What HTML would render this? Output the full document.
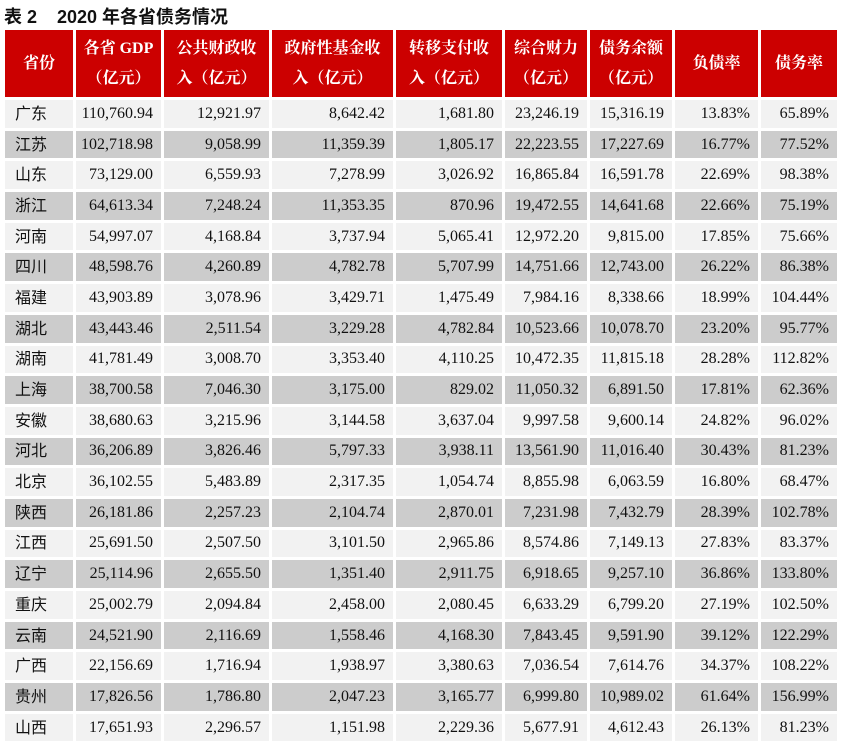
<!DOCTYPE html>
<html><head><meta charset="utf-8"><style>
body{margin:0;width:842px;height:744px;background:#fff;overflow:hidden;font-family:"Liberation Serif","Noto Serif CJK SC",serif;}
.t{position:absolute;left:4px;top:3px;font-size:18px;font-weight:bold;color:#111;font-family:"Liberation Sans","Noto Sans CJK SC",sans-serif;white-space:pre}
table{position:absolute;left:2px;top:27px;border-collapse:separate;border-spacing:3px;}
td{padding:0 8px 0 0;height:27.7px;font-size:16px;line-height:18px;vertical-align:middle;color:#111;text-align:right;white-space:nowrap;box-sizing:border-box;}
th{background:#cc0000;color:#fff;height:67px;font-size:16px;font-weight:bold;line-height:30px;padding:0;font-family:"Liberation Serif","Noto Serif CJK SC",serif;}
td.n{text-align:left;padding-left:10px;line-height:20px;font-family:"Liberation Sans","Noto Sans CJK SC",sans-serif;}
td.n span{display:inline-block;line-height:20px;position:relative;top:1px}
tr.o td{background:#f2f2f2}
tr.e td{background:#cccccc}
</style></head><body>
<div class="t">表 2    2020 年各省债务情况</div>
<table>
<colgroup><col style="width:68px"><col style="width:85px"><col style="width:105px"><col style="width:121px"><col style="width:106px"><col style="width:82px"><col style="width:82px"><col style="width:83px"><col style="width:76px"></colgroup>
<tr><th>省份</th><th>各省 GDP<br>（亿元）</th><th>公共财政收<br>入（亿元）</th><th>政府性基金收<br>入（亿元）</th><th>转移支付收<br>入（亿元）</th><th>综合财力<br>（亿元）</th><th>债务余额<br>（亿元）</th><th>负债率</th><th>债务率</th></tr>
<tr class="o"><td class="n"><span>广东</span></td><td>110,760.94</td><td>12,921.97</td><td>8,642.42</td><td>1,681.80</td><td>23,246.19</td><td>15,316.19</td><td>13.83%</td><td>65.89%</td></tr>
<tr class="e"><td class="n"><span>江苏</span></td><td>102,718.98</td><td>9,058.99</td><td>11,359.39</td><td>1,805.17</td><td>22,223.55</td><td>17,227.69</td><td>16.77%</td><td>77.52%</td></tr>
<tr class="o"><td class="n"><span>山东</span></td><td>73,129.00</td><td>6,559.93</td><td>7,278.99</td><td>3,026.92</td><td>16,865.84</td><td>16,591.78</td><td>22.69%</td><td>98.38%</td></tr>
<tr class="e"><td class="n"><span>浙江</span></td><td>64,613.34</td><td>7,248.24</td><td>11,353.35</td><td>870.96</td><td>19,472.55</td><td>14,641.68</td><td>22.66%</td><td>75.19%</td></tr>
<tr class="o"><td class="n"><span>河南</span></td><td>54,997.07</td><td>4,168.84</td><td>3,737.94</td><td>5,065.41</td><td>12,972.20</td><td>9,815.00</td><td>17.85%</td><td>75.66%</td></tr>
<tr class="e"><td class="n"><span>四川</span></td><td>48,598.76</td><td>4,260.89</td><td>4,782.78</td><td>5,707.99</td><td>14,751.66</td><td>12,743.00</td><td>26.22%</td><td>86.38%</td></tr>
<tr class="o"><td class="n"><span>福建</span></td><td>43,903.89</td><td>3,078.96</td><td>3,429.71</td><td>1,475.49</td><td>7,984.16</td><td>8,338.66</td><td>18.99%</td><td>104.44%</td></tr>
<tr class="e"><td class="n"><span>湖北</span></td><td>43,443.46</td><td>2,511.54</td><td>3,229.28</td><td>4,782.84</td><td>10,523.66</td><td>10,078.70</td><td>23.20%</td><td>95.77%</td></tr>
<tr class="o"><td class="n"><span>湖南</span></td><td>41,781.49</td><td>3,008.70</td><td>3,353.40</td><td>4,110.25</td><td>10,472.35</td><td>11,815.18</td><td>28.28%</td><td>112.82%</td></tr>
<tr class="e"><td class="n"><span>上海</span></td><td>38,700.58</td><td>7,046.30</td><td>3,175.00</td><td>829.02</td><td>11,050.32</td><td>6,891.50</td><td>17.81%</td><td>62.36%</td></tr>
<tr class="o"><td class="n"><span>安徽</span></td><td>38,680.63</td><td>3,215.96</td><td>3,144.58</td><td>3,637.04</td><td>9,997.58</td><td>9,600.14</td><td>24.82%</td><td>96.02%</td></tr>
<tr class="e"><td class="n"><span>河北</span></td><td>36,206.89</td><td>3,826.46</td><td>5,797.33</td><td>3,938.11</td><td>13,561.90</td><td>11,016.40</td><td>30.43%</td><td>81.23%</td></tr>
<tr class="o"><td class="n"><span>北京</span></td><td>36,102.55</td><td>5,483.89</td><td>2,317.35</td><td>1,054.74</td><td>8,855.98</td><td>6,063.59</td><td>16.80%</td><td>68.47%</td></tr>
<tr class="e"><td class="n"><span>陕西</span></td><td>26,181.86</td><td>2,257.23</td><td>2,104.74</td><td>2,870.01</td><td>7,231.98</td><td>7,432.79</td><td>28.39%</td><td>102.78%</td></tr>
<tr class="o"><td class="n"><span>江西</span></td><td>25,691.50</td><td>2,507.50</td><td>3,101.50</td><td>2,965.86</td><td>8,574.86</td><td>7,149.13</td><td>27.83%</td><td>83.37%</td></tr>
<tr class="e"><td class="n"><span>辽宁</span></td><td>25,114.96</td><td>2,655.50</td><td>1,351.40</td><td>2,911.75</td><td>6,918.65</td><td>9,257.10</td><td>36.86%</td><td>133.80%</td></tr>
<tr class="o"><td class="n"><span>重庆</span></td><td>25,002.79</td><td>2,094.84</td><td>2,458.00</td><td>2,080.45</td><td>6,633.29</td><td>6,799.20</td><td>27.19%</td><td>102.50%</td></tr>
<tr class="e"><td class="n"><span>云南</span></td><td>24,521.90</td><td>2,116.69</td><td>1,558.46</td><td>4,168.30</td><td>7,843.45</td><td>9,591.90</td><td>39.12%</td><td>122.29%</td></tr>
<tr class="o"><td class="n"><span>广西</span></td><td>22,156.69</td><td>1,716.94</td><td>1,938.97</td><td>3,380.63</td><td>7,036.54</td><td>7,614.76</td><td>34.37%</td><td>108.22%</td></tr>
<tr class="e"><td class="n"><span>贵州</span></td><td>17,826.56</td><td>1,786.80</td><td>2,047.23</td><td>3,165.77</td><td>6,999.80</td><td>10,989.02</td><td>61.64%</td><td>156.99%</td></tr>
<tr class="o"><td class="n"><span>山西</span></td><td>17,651.93</td><td>2,296.57</td><td>1,151.98</td><td>2,229.36</td><td>5,677.91</td><td>4,612.43</td><td>26.13%</td><td>81.23%</td></tr>
</table>
</body></html>
